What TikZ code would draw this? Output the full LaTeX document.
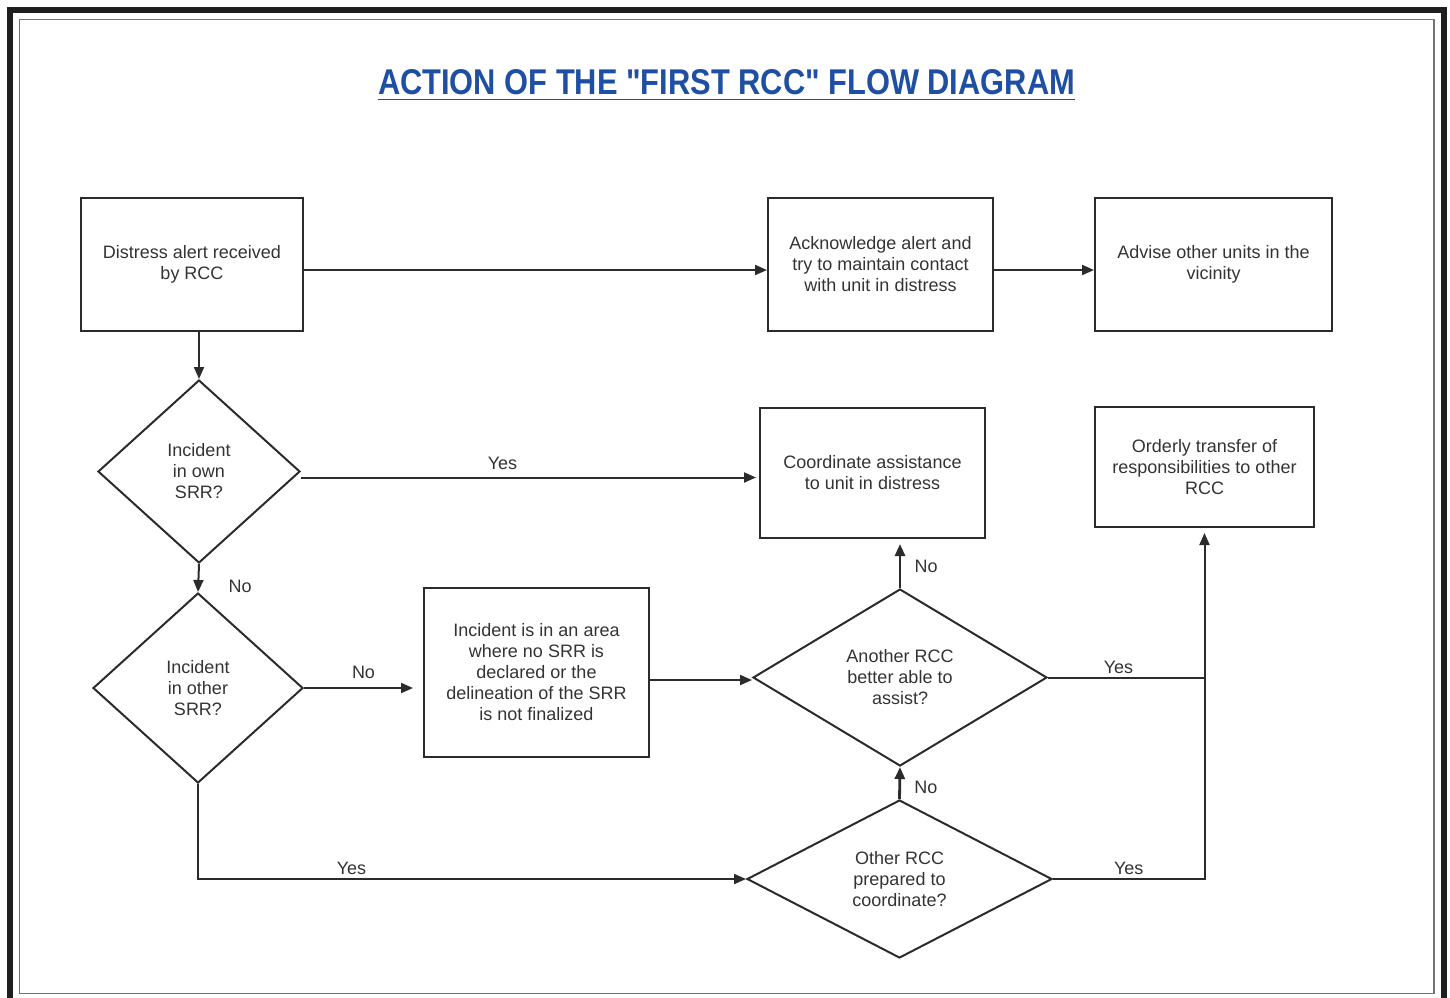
\documentclass[tikz,border=0pt]{standalone}
\usepackage{graphicx}
\usepackage{fontspec}
\setmainfont{Liberation Sans}
\newfontfamily\titlefont[Ligatures=TeXOff]{Liberation Sans}
\usetikzlibrary{shapes.geometric,arrows.meta}
\definecolor{titleblue}{HTML}{1E4FA3}
\definecolor{ink}{HTML}{2B2B2B}
\definecolor{textgrey}{HTML}{333333}
\tikzset {>={Triangle[length=12pt,width=10pt]}}
\tikzset {
  block/.style={draw=ink,line width=2pt,text=textgrey,align=center,
    font=\fontsize{18}{21}\selectfont,inner sep=0pt},
  decision/.style={diamond,draw=ink,line width=2pt,text=textgrey,align=center,
    font=\fontsize{18}{21}\selectfont,inner sep=0pt},
  flow/.style={->,draw=ink,line width=2pt},
  answer/.style={text=textgrey,font=\fontsize{18}{21}\selectfont}
}

\begin{document}
\begin{tikzpicture}[x=1pt,y=-1pt]
\useasboundingbox (0,0) rectangle (1450,997);
% frame
\draw[line width=6pt,black!88] (10,10) rectangle (1444,1012);
\draw[line width=1.5pt,black!55] (19.5,19.5) rectangle (1434,993.5);
% title
\node[text=titleblue,inner sep=0pt] (title) at (726.5,82.5)
  {\resizebox{697pt}{25pt}{\titlefont\bfseries ACTION OF THE "FIRST RCC" FLOW DIAGRAM}};
\draw[titleblue,line width=1.5pt] ([yshift=-4pt]title.south west) -- ([yshift=-4pt]title.south east);
% boxes
\node[block,minimum width=222pt,minimum height=133pt] (alert) at (192,264.5) {Distress alert received\\by RCC};
\node[block,minimum width=225pt,minimum height=133pt] (ack) at (880.5,264.5) {Acknowledge alert and\\try to maintain contact\\with unit in distress};
\node[block,minimum width=237pt,minimum height=133pt] (advise) at (1213.5,264.5) {Advise other units in the\\vicinity};
\node[block,minimum width=225pt,minimum height=130pt] (coord) at (872.5,473) {Coordinate assistance\\to unit in distress};
\node[block,minimum width=219pt,minimum height=120pt] (transfer) at (1204.5,467) {Orderly transfer of\\responsibilities to other\\RCC};
\node[block,minimum width=225pt,minimum height=169pt] (area) at (536.5,672.5) {Incident is in an area\\where no SRR is\\declared or the\\delineation of the SRR\\is not finalized};
% decisions
\node[decision,minimum width=202pt,minimum height=183pt] (own) at (199,471.5) {Incident\\in own\\SRR?};
\node[decision,minimum width=210pt,minimum height=190pt] (other) at (198,688) {Incident\\in other\\SRR?};
\node[decision,minimum width=294pt,minimum height=177pt] (better) at (900,677.5) {Another RCC\\better able to\\assist?};
\node[decision,minimum width=305pt,minimum height=158pt] (prepared) at (899.5,879) {Other RCC\\prepared to\\coordinate?};
% connectors
\draw[flow] ([yshift=-5.5pt]alert.east) -- ([yshift=-5.5pt]alert.east -| ack.west);
\draw[flow] ([yshift=-5.5pt]ack.east) -- ([yshift=-5.5pt]ack.east -| advise.west);
\draw[flow] (own.north |- alert.south) -- (own.north);
\draw[flow,shorten >=3pt] ([yshift=-6pt]own.east) -- node[answer,above=4pt,pos=.44] {Yes} ([yshift=-6pt]own.east -| coord.west);
\draw[flow] (own.south) -- node[answer,right=26pt,pos=.8] {No} (other.north);
\draw[flow,shorten >=10pt] (other.east) -- node[answer,above=5pt] {No} (other.east -| area.west);
\draw[flow] ([yshift=-2.5pt]better.west -| area.east) -- ([yshift=-2.5pt]better.west);
\draw[flow,line width=2.8pt,shorten >=5pt] (better.north) -- node[answer,right=10pt,pos=.45] {No} (better.north |- coord.south);
\draw[flow,line width=2.8pt] (prepared.north) -- node[answer,right=10pt,pos=.35] {No} (better.south);
\draw[ink,line width=2pt] (better.east) -- node[answer,above,pos=.45] {Yes} (better.east -| transfer.south);
\draw[flow,shorten >=5pt] (prepared.east) -- node[answer,above] {Yes} (prepared.east -| transfer.south) -- (transfer.south);
\draw[flow] (other.south) -- (other.south |- prepared.west) -- node[answer,above,pos=.28] {Yes} (prepared.west);
\end{tikzpicture}
\end{document}
